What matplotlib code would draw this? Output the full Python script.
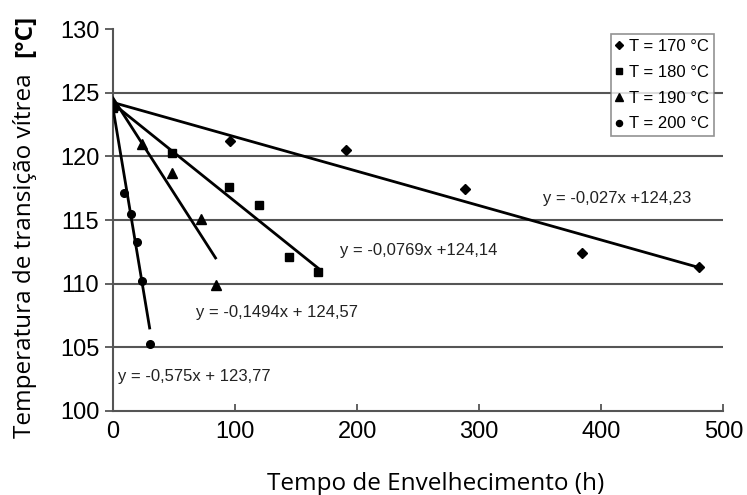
import numpy as np
import matplotlib
matplotlib.use("Agg")
import matplotlib.pyplot as plt

plt.rcParams['font.family'] = ['Liberation Sans', 'DejaVu Sans']

# Data (time in h, Tg in °C)
x170 = [0, 96, 191, 288, 384, 480]
y170 = [124.0, 121.2, 120.5, 117.4, 112.4, 111.3]
x180 = [0, 48, 95, 120, 144, 168]
y180 = [123.8, 120.3, 117.6, 116.2, 112.1, 110.9]
x190 = [0, 24, 48, 72, 84]
y190 = [124.0, 121.0, 118.7, 115.1, 109.9]
x200 = [0, 9, 15, 20, 24, 30]
y200 = [124.0, 117.1, 115.5, 113.3, 110.2, 105.3]

labels = ["T = 170 °C", "T = 180 °C", "T = 190 °C", "T = 200 °C"]
slopes = [-0.027, -0.0769, -0.1494, -0.575]
intercepts = [124.23, 124.14, 124.57, 123.77]
eq_texts = ["y = -0,027x +124,23", "y = -0,0769x +124,14",
            "y = -0,1494x + 124,57", "y = -0,575x + 123,77"]
eq_pos = [(352, 116.7), (186, 112.6), (68, 107.7), (4, 102.7)]

fig = plt.figure(figsize=(7.47, 4.95), dpi=100)
ax = fig.add_axes([0.1513, 0.1697, 0.8170, 0.7717])

ax.set_xlim(0, 500)
ax.set_ylim(100, 130)
ax.set_xticks([0, 100, 200, 300, 400, 500])
ax.set_yticks([100, 105, 110, 115, 120, 125, 130])

gridc = '#555555'
for g in [105, 110, 115, 120, 125]:
    ax.axhline(g, color=gridc, lw=1.5, zorder=1)

series = [(x170, y170, 'D', 5.5), (x180, y180, 's', 6), (x190, y190, '^', 6.5), (x200, y200, 'o', 5.5)]
handles = []
for (xs, ys, m, ms), lab, s, b in zip(series, labels, slopes, intercepts):
    h, = ax.plot(xs, ys, linestyle='none', marker=m, ms=ms, color='black', label=lab, zorder=4)
    handles.append(h)
    xl = np.array([0, xs[-1]])
    ax.plot(xl, s * xl + b, color='black', lw=2, zorder=3)

for t, (px, py) in zip(eq_texts, eq_pos):
    ax.text(px, py, t, fontsize=12, ha='left', va='center', color='#222222')

leg = ax.legend(handles=handles, loc='upper right', bbox_to_anchor=(0.985, 0.987),
                fontsize=12, frameon=True, fancybox=False, edgecolor='#777777',
                handlelength=0.4, handletextpad=0.4, borderpad=0.3, labelspacing=0.65,
                markerscale=0.8, borderaxespad=0)
leg.get_frame().set_linewidth(1.2)

for sp in ['top', 'right']:
    ax.spines[sp].set_visible(False)
for sp in ['left', 'bottom']:
    ax.spines[sp].set_color(gridc)
    ax.spines[sp].set_linewidth(1.5)

ax.tick_params(axis='y', direction='out', length=6, width=1.3, color=gridc, labelsize=17, pad=4)
ax.tick_params(axis='x', direction='in', length=5, width=1.3, color=gridc, labelsize=17, pad=7)

lab_font = ['Open Sans', 'DejaVu Sans']
fig.text(436 / 747, 1 - 490 / 495, "Tempo de Envelhecimento (h)", fontsize=17.5,
         family=lab_font, ha='center', va='baseline')

fig.text(25 / 747, 1 - 438 / 495, "Temperatura de transição vítrea", rotation=90,
         fontsize=17.5, family=lab_font, ha='center', va='bottom')
fig.text(25 / 747, 1 - 15 / 495, "[°C]", rotation=90, fontsize=17.5, fontweight='bold',
         family=lab_font, ha='center', va='top')

fig.savefig("out.png", dpi=100)
